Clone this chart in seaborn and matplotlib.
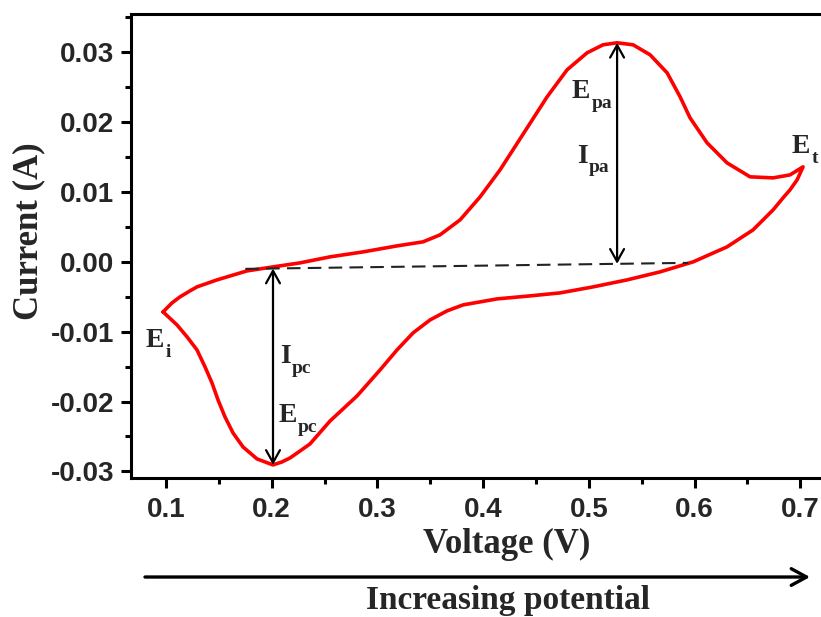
import numpy as np
import matplotlib
matplotlib.use("Agg")
import matplotlib.pyplot as plt
from matplotlib.ticker import MultipleLocator, FormatStrFormatter
import seaborn as sns

# Forward (anodic) scan, E_i -> E_t
fwd_v = [0.0972, 0.1057, 0.1132, 0.1227, 0.1293, 0.1482, 0.1766, 0.2012, 0.2268,
         0.2552, 0.2864, 0.3185, 0.3431, 0.3592, 0.3782, 0.3971, 0.4160, 0.4378,
         0.4605, 0.4794, 0.4983, 0.5134, 0.5267, 0.5418, 0.5579, 0.5740, 0.5863,
         0.5957, 0.6118, 0.6307, 0.6525, 0.6743, 0.6903, 0.7026]
fwd_i = [-0.00716, -0.00587, -0.00501, -0.00415, -0.00358, -0.00258, -0.00129,
         -0.00072, -0.00014, 0.00072, 0.00143, 0.00229, 0.00287, 0.00387, 0.00602,
         0.00931, 0.01318, 0.01830, 0.02364, 0.02751, 0.02994, 0.03109, 0.03138,
         0.03109, 0.02966, 0.02708, 0.02364, 0.02063, 0.01705, 0.01418, 0.01218,
         0.01203, 0.01246, 0.01361]

# Reverse (cathodic) scan, E_t -> E_i
rev_v = [0.7026, 0.6970, 0.6903, 0.6837, 0.6743, 0.6553, 0.6307, 0.5986, 0.5674,
         0.5361, 0.5040, 0.4728, 0.4444, 0.4132, 0.3971, 0.3810, 0.3658, 0.3498,
         0.3337, 0.3185, 0.3025, 0.2807, 0.2552, 0.2362, 0.2268, 0.2173, 0.2097,
         0.2012, 0.1861, 0.1728, 0.1634, 0.1558, 0.1492, 0.1435, 0.1369, 0.1293,
         0.1199, 0.1104, 0.0972]
rev_i = [0.01361, 0.01175, 0.01032, 0.00917, 0.00745, 0.00458, 0.00215, 0.0,
         -0.00143, -0.00258, -0.00358, -0.00444, -0.00487, -0.00530, -0.00573,
         -0.00616, -0.00702, -0.00831, -0.01017, -0.01261, -0.01547, -0.01920,
         -0.02278, -0.02607, -0.02708, -0.02808, -0.02865, -0.02908, -0.02822,
         -0.02650, -0.02450, -0.02221, -0.01977, -0.01734, -0.01504, -0.01261,
         -0.01074, -0.00903, -0.00716]

# Baseline (dashed)
base_v = [0.175, 0.594]
base_i = [-0.0010, -0.00014]

sns.set_style("ticks")
plt.rcParams["font.family"] = ["Liberation Sans", "DejaVu Sans"]
plt.rcParams["font.weight"] = "bold"
plt.rcParams["axes.unicode_minus"] = False

fig = plt.figure(figsize=(8.21, 6.17), dpi=100)
ax = fig.add_axes([0.1596, 0.2253, 0.8538, 0.7520])

# CV loop
loop_v = fwd_v + rev_v[1:]
loop_i = fwd_i + rev_i[1:]
sns.lineplot(x=loop_v, y=loop_i, sort=False, estimator=None,
             color="#ff0000", lw=2.6, ax=ax, solid_joinstyle="round")

# Baseline
sns.lineplot(x=base_v, y=base_i, sort=False, estimator=None, color="#222222",
             lw=1.5, ax=ax, linestyle=(0, (6.5, 3.5)))

# Peak arrows
ia = int(np.argmax(fwd_i))
va_x = fwd_v[ia]
ic = int(np.argmin(rev_i))
vc_x = rev_v[ic]
arrow = dict(arrowstyle="<->,head_length=0.45,head_width=0.25", lw=1.6,
             color="k", shrinkA=0, shrinkB=0, mutation_scale=20)
ax.annotate("", xy=(va_x, fwd_i[ia]), xytext=(va_x, np.interp(va_x, base_v, base_i)),
            arrowprops=arrow)
ax.annotate("", xy=(vc_x, rev_i[ic]), xytext=(vc_x, np.interp(vc_x, base_v, base_i)),
            arrowprops=arrow)


def sublabel(x, y, main, sub):
    ax.text(x, y, main, fontsize=20, family="Liberation Serif",
            fontweight="bold", ha="left", va="baseline")
    dx = 14.0 if main == "E" else 8.5
    ax.annotate(sub, xy=(x, y), xytext=(dx, -7), textcoords="offset points",
                fontsize=14, family="Liberation Serif", fontweight="bold",
                ha="left", va="baseline")


sublabel(0.4841, 0.0235, "E", "pa")
sublabel(0.4888, 0.0142, "I", "pa")
sublabel(0.6922, 0.0156, "E", "t")
sublabel(0.0811, -0.0122, "E", "i")
sublabel(0.2079, -0.0145, "I", "pc")
sublabel(0.2060, -0.0229, "E", "pc")

ax.set_xlim(0.0669, 0.73)
ax.set_ylim(-0.03095, 0.0355)
ax.xaxis.set_major_locator(MultipleLocator(0.1))
ax.xaxis.set_minor_locator(MultipleLocator(0.05))
ax.yaxis.set_major_locator(MultipleLocator(0.01))
ax.yaxis.set_minor_locator(MultipleLocator(0.005))
ax.xaxis.set_major_formatter(FormatStrFormatter("%.1f"))
ax.yaxis.set_major_formatter(FormatStrFormatter("%.2f"))

ax.tick_params(which="major", direction="out", length=7, width=2.2,
               labelsize=20, pad=5, top=False, right=False, color="k")
ax.tick_params(which="minor", direction="out", length=4, width=2.2,
               top=False, right=False, color="k")
ax.tick_params(axis="x", which="major", pad=7)
for s in ax.spines.values():
    s.set_linewidth(2.2)
    s.set_color("k")

ax.set_xlabel("Voltage (V)", fontsize=25, family="Liberation Serif",
              fontweight="bold", va="center")
ax.set_ylabel("Current (A)", fontsize=25, family="Liberation Serif",
              fontweight="bold", va="center")
ax.xaxis.set_label_coords(0.536, -0.144)
ax.yaxis.set_label_coords(-0.1455, 0.532)

# Increasing potential arrow below the axes
ax.annotate("", xy=(0.9866, 0.0648), xytext=(0.1766, 0.0648),
            xycoords="figure fraction", textcoords="figure fraction",
            arrowprops=dict(arrowstyle="->,head_length=0.55,head_width=0.3",
                            lw=2.4, color="k", shrinkA=0, shrinkB=0,
                            mutation_scale=20))
fig.text(0.619, 0.013, "Increasing potential", ha="center", va="baseline",
         fontsize=24, family="Liberation Serif", fontweight="bold")

fig.savefig("out.png", dpi=100)
